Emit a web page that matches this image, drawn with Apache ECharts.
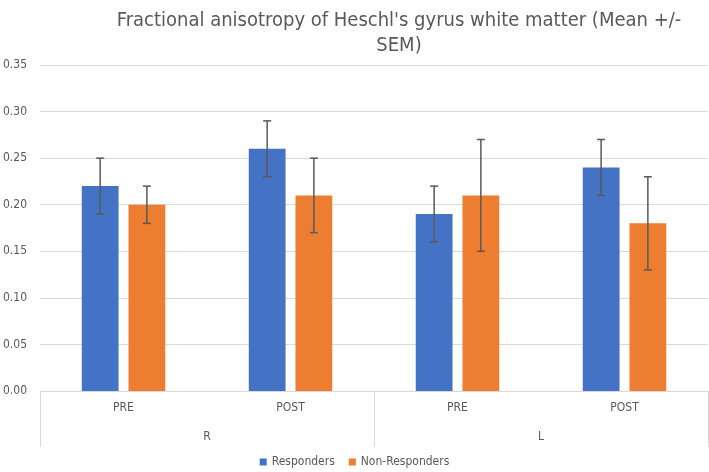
<!DOCTYPE html>
<html>
<head>
<meta charset="utf-8">
<script src="https://cdn.jsdelivr.net/npm/echarts@6/dist/echarts.min.js"></script>
<style>
  html, body { margin: 0; padding: 0; background: #fff; }
  #chart { width: 709px; height: 472px; }
</style>
</head>
<body>
<div id="chart"></div>
<script>
const phases = ["PRE", "POST", "PRE", "POST"];
const sides = ["R", "L"];
const responders = [0.22, 0.26, 0.19, 0.24];
const respSem = [0.03, 0.03, 0.03, 0.03];
const nonResponders = [0.20, 0.21, 0.21, 0.18];
const nonRespSem = [0.02, 0.04, 0.06, 0.05];

const FONT = "'Liberation Sans Narrow', 'DejaVu Sans Condensed', 'Open Sans', sans-serif";
const CAT_GAP = 0.5;
const BAR_GAP = 0.27;

// error bar (I-beam) for one of the two bars in each category
function errorBars(sem, which) {
  return function (params, api) {
    const idx = api.value(0);
    const mean = api.value(1);
    const band = api.size([1, 0])[0];
    const bw = band * (1 - CAT_GAP) / (2 + BAR_GAP);
    const off = (bw + bw * BAR_GAP) / 2 * which;
    const hi = api.coord([idx, mean + sem[idx]]);
    const lo = api.coord([idx, mean - sem[idx]]);
    const x = hi[0] + off;
    const cap = 4;
    const style = { stroke: "#595959", lineWidth: 1.5 };
    return {
      type: "group",
      children: [
        { type: "line", shape: { x1: x, y1: hi[1], x2: x, y2: lo[1] }, style: style },
        { type: "line", shape: { x1: x - cap, y1: hi[1], x2: x + cap, y2: hi[1] }, style: style },
        { type: "line", shape: { x1: x - cap, y1: lo[1], x2: x + cap, y2: lo[1] }, style: style }
      ]
    };
  };
}

const chart = echarts.init(document.getElementById("chart"));
chart.setOption({
  animation: false,
  textStyle: { fontFamily: FONT },
  title: {
    text: "Fractional anisotropy of Heschl's gyrus white matter (Mean +/-\nSEM)",
    left: 394,
    top: 3,
    textAlign: "center",
    textStyle: { fontFamily: FONT, fontSize: 20, fontWeight: "normal", color: "#595959", lineHeight: 25, align: "center" }
  },
  legend: {
    top: 456,
    left: "center",
    padding: 0,
    itemWidth: 7,
    itemHeight: 7,
    itemGap: 14,
    icon: "rect",
    textStyle: { fontFamily: FONT, fontSize: 12, color: "#595959" },
    data: ["Responders", "Non-Responders"]
  },
  grid: { left: 39, right: 1, top: 65, bottom: 81 },
  xAxis: [
    {
      type: "category",
      data: phases,
      position: "bottom",
      axisLine: { show: true, lineStyle: { color: "#D9D9D9" } },
      axisTick: { show: false },
      axisLabel: { color: "#595959", fontSize: 12, margin: 11 }
    },
    {
      type: "category",
      data: sides,
      position: "bottom",
      axisLine: { show: false },
      axisTick: { show: true, length: 56, lineStyle: { color: "#D9D9D9" } },
      axisLabel: { color: "#595959", fontSize: 12, margin: 40 }
    }
  ],
  yAxis: {
    type: "value",
    min: 0,
    max: 0.35,
    interval: 0.05,
    axisLine: { show: false },
    axisTick: { show: false },
    splitLine: { lineStyle: { color: "#D9D9D9" } },
    axisLabel: { color: "#595959", fontSize: 12, margin: 13, formatter: v => v.toFixed(2) }
  },
  series: [
    {
      name: "Responders",
      type: "bar",
      xAxisIndex: 0,
      data: responders,
      barCategoryGap: "50%",
      barGap: "27%",
      itemStyle: { color: "#4472C4" }
    },
    {
      name: "Non-Responders",
      type: "bar",
      xAxisIndex: 0,
      data: nonResponders,
      barCategoryGap: "50%",
      barGap: "27%",
      itemStyle: { color: "#ED7D31" }
    },
    {
      type: "custom",
      xAxisIndex: 0,
      renderItem: errorBars(respSem, -1),
      data: responders.map((v, i) => [i, v]),
      z: 10
    },
    {
      type: "custom",
      xAxisIndex: 0,
      renderItem: errorBars(nonRespSem, 1),
      data: nonResponders.map((v, i) => [i, v]),
      z: 10
    }
  ]
});
</script>
</body>
</html>
